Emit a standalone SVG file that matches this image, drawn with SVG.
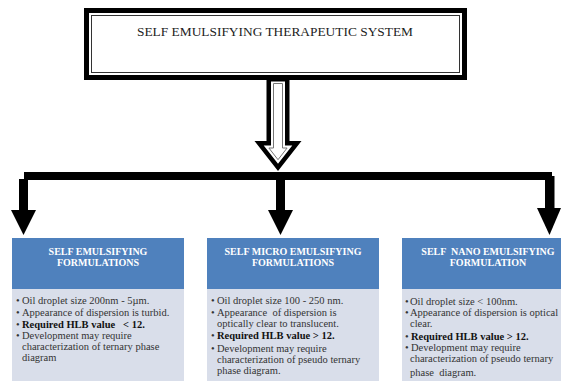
<svg xmlns="http://www.w3.org/2000/svg" width="561" height="381" viewBox="0 0 561 381">
<style>
.hdr{fill:#4f81bd}
.body{fill:#d9deea}
.ht{font-family:"Liberation Serif","Times New Roman",serif;font-size:10px;font-weight:bold;fill:#ffffff;text-anchor:middle}
.bt{font-family:"Liberation Serif","Times New Roman",serif;font-size:10.5px;fill:#333333}
.b{font-weight:bold;fill:#111111}
.title{font-family:"Liberation Serif","Times New Roman",serif;font-size:13px;fill:#222222;text-anchor:middle}
.blk{fill:#000000}
</style>
<rect width="561" height="381" fill="#ffffff"/>
<g id="top">
<rect x="86.5" y="10.5" width="378" height="67" fill="#ffffff" stroke="#000000" stroke-width="5"/>
<rect x="91.5" y="15.5" width="368" height="57" fill="none" stroke="#333333" stroke-width="1"/>
<text class="title" x="275" y="36" textLength="276" lengthAdjust="spacingAndGlyphs">SELF EMULSIFYING THERAPEUTIC SYSTEM</text>
</g>
<g id="connectors">
<polygon class="blk" points="266.5,80 289.5,80 289.5,141 301.5,141 278,171 254.5,141 266.5,141"/>
<polygon fill="#ffffff" points="271,81.5 285,81.5 285,145.5 292.3,145.5 278,163.7 263.7,145.5 271,145.5"/>
<polygon fill="#ffffff" stroke="#777777" stroke-width="1" points="273.5,83.5 282.5,83.5 282.5,148 287.1,148 278,159.7 268.9,148 273.5,148"/>
<rect class="blk" x="24" y="172" width="528" height="8"/>
<rect class="blk" x="19" y="179" width="9" height="32"/>
<polygon class="blk" points="11,210 36,210 23.5,235"/>
<rect class="blk" x="276" y="179" width="9" height="32"/>
<polygon class="blk" points="268,210 293,210 280.5,235"/>
<rect class="blk" x="545" y="176" width="9.5" height="33"/>
<polygon class="blk" points="537,208 561,208 549.5,235"/>
</g>
<g id="box1">
<rect class="hdr" x="12" y="238" width="172" height="51"/>
<rect class="body" x="12" y="289" width="172" height="92"/>
<text class="ht" x="98" y="255">SELF EMULSIFYING</text>
<text class="ht" x="98" y="266">FORMULATIONS</text>
<g class="bt">
<text x="16" y="304">•</text><text x="22" y="304">Oil droplet size 200nm - 5µm.</text>
<text x="16" y="316">•</text><text x="22" y="316">Appearance of dispersion is turbid.</text>
<text x="16" y="327.5">•</text><text class="b" x="22" y="327.5" xml:space="preserve">Required HLB value   &lt; 12.</text>
<text x="16" y="339">•</text><text x="22" y="339">Development may require</text>
<text x="22" y="349.5">characterization of ternary phase</text>
<text x="22" y="360.5">diagram</text>
</g>
</g>
<g id="box2">
<rect class="hdr" x="207" y="238" width="172" height="51"/>
<rect class="body" x="207" y="289" width="172" height="92"/>
<text class="ht" x="293" y="255">SELF MICRO EMULSIFYING</text>
<text class="ht" x="293" y="266">FORMULATIONS</text>
<g class="bt">
<text x="211" y="304">•</text><text x="217" y="304">Oil droplet size 100 - 250 nm.</text>
<text x="211" y="316">•</text><text x="217" y="316" xml:space="preserve">Appearance  of dispersion is</text>
<text x="217" y="327">optically clear to translucent.</text>
<text x="211" y="339">•</text><text class="b" x="217" y="339">Required HLB value &gt; 12.</text>
<text x="211" y="351.5">•</text><text x="217" y="351.5">Development may require</text>
<text x="217" y="362.5">characterization of pseudo ternary</text>
<text x="217" y="374">phase diagram.</text>
</g>
</g>
<g id="box3">
<rect class="hdr" x="402" y="238" width="172" height="51"/>
<rect class="body" x="402" y="289" width="172" height="92"/>
<text class="ht" x="488" y="255" xml:space="preserve">SELF  NANO EMULSIFYING</text>
<text class="ht" x="488" y="266">FORMULATION</text>
<g class="bt">
<text x="405" y="304.5">•</text><text x="410" y="304.5">Oil droplet size &lt; 100nm.</text>
<text x="405" y="316">•</text><text x="410" y="316">Appearance of dispersion is optical</text>
<text x="410" y="327">clear.</text>
<text x="405" y="340">•</text><text class="b" x="411" y="340">Required HLB value &gt; 12.</text>
<text x="405" y="351">•</text><text x="411" y="351">Development may require</text>
<text x="410" y="361.5">characterization of pseudo ternary</text>
<text x="410" y="376" xml:space="preserve">phase  diagram.</text>
</g>
</g>
</svg>
